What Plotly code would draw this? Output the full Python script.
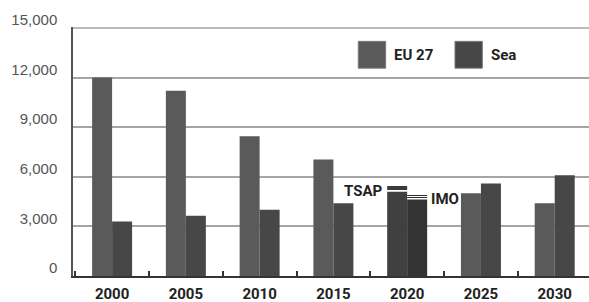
import plotly.graph_objects as go

years = ["2000", "2005", "2010", "2015", "2020", "2025", "2030"]
eu27 = [12000, 11200, 8450, 7050, 5100, 5000, 4400]
sea = [3300, 3650, 4000, 4400, 4630, 5600, 6100]
tsap_lines = [5390, 5250]   # TSAP markers above EU 2020 bar
imo_lines = [4870, 4750]    # IMO markers above Sea 2020 bar
marker_year = "2020"
y_ticks = [0, 3000, 6000, 9000, 12000, 15000]
y_tick_text = ["0", "3,000", "6,000", "9,000", "12,000", "15,000"]

eu_col = ["#404040" if y == marker_year else "#5a5a5a" for y in years]
sea_col = ["#333333" if y == marker_year else "#474747" for y in years]

fig = go.Figure()
fig.add_trace(go.Bar(x=years, y=eu27, name="EU 27", offsetgroup="eu",
                     marker=dict(color=eu_col, line=dict(width=0))))
fig.add_trace(go.Bar(x=years, y=sea, name="Sea", offsetgroup="sea",
                     marker=dict(color=sea_col, line=dict(width=0))))
for lv in tsap_lines:
    fig.add_trace(go.Bar(x=[marker_year], y=[50], base=[lv - 25], offsetgroup="eu",
                         marker=dict(color="#3a3a3a", line=dict(width=0)), showlegend=False))
for lv in imo_lines:
    fig.add_trace(go.Bar(x=[marker_year], y=[50], base=[lv - 25], offsetgroup="sea",
                         marker=dict(color="#2e2e2e", line=dict(width=0)), showlegend=False))

idx = years.index(marker_year)
fig.add_annotation(x=idx - 0.27, y=tsap_lines[0], xref="x", yref="y", text="<b>TSAP</b>",
                   showarrow=False, xanchor="right", yanchor="middle", xshift=-3, yshift=-4,
                   font=dict(family="Liberation Sans Narrow, Roboto", size=15, color="#222"))
fig.add_annotation(x=idx + 0.27, y=imo_lines[0], xref="x", yref="y", text="<b>IMO</b>",
                   showarrow=False, xanchor="left", yanchor="middle", xshift=2, yshift=-4,
                   font=dict(family="Liberation Sans Narrow, Roboto", size=15, color="#222"))

# top grid line (at the axis maximum)
fig.add_shape(type="line", xref="paper", yref="y", x0=0, x1=1, y0=y_ticks[-1], y1=y_ticks[-1],
              line=dict(color="#a5a5a5", width=1.5), layer="below")

# custom legend
legend_items = [("EU 27", "#5a5a5a", 0.5529), ("Sea", "#474747", 0.7403)]
for name, col, x0 in legend_items:
    fig.add_shape(type="rect", xref="paper", yref="paper", x0=x0, x1=x0 + 0.053,
                  y0=0.8347, y1=0.9423, fillcolor=col, line=dict(color="#777", width=1))
    fig.add_annotation(xref="paper", yref="paper", x=x0 + 0.065, y=0.888, text="<b>%s</b>" % name,
                       showarrow=False, xanchor="left", yanchor="middle",
                       font=dict(family="Roboto", size=15, color="#222"))

fig.update_layout(
    width=589, height=302,
    margin=dict(l=73, r=0, t=27, b=26, autoexpand=False),
    plot_bgcolor="white", paper_bgcolor="white",
    barmode="group", bargap=0.458, bargroupgap=0,
    showlegend=False,
    xaxis=dict(type="category", range=[-0.53, 6.465], showgrid=False, automargin=False,
               showline=True, linecolor="#333", linewidth=2,
               ticks="inside", tickson="boundaries", ticklen=5, tickcolor="#333", tickwidth=1.5,
               tickfont=dict(family="Roboto", size=15, color="#222", weight="bold"),
               ticklabelstandoff=3),
    yaxis=dict(range=[0, 15060], tickvals=y_ticks, ticktext=y_tick_text, automargin=False,
               showgrid=True, gridcolor="#a5a5a5", gridwidth=1.5, zeroline=False,
               showline=True, linecolor="#555", linewidth=1.5,
               tickfont=dict(family="Liberation Sans, Arial", size=15, color="#555"),
               ticklabelshift=-8, ticklabelstandoff=11),
)
fig.write_html("out.html", config={"displayModeBar": False},
               post_script="document.body.style.margin='0';document.body.style.overflow='hidden';")
